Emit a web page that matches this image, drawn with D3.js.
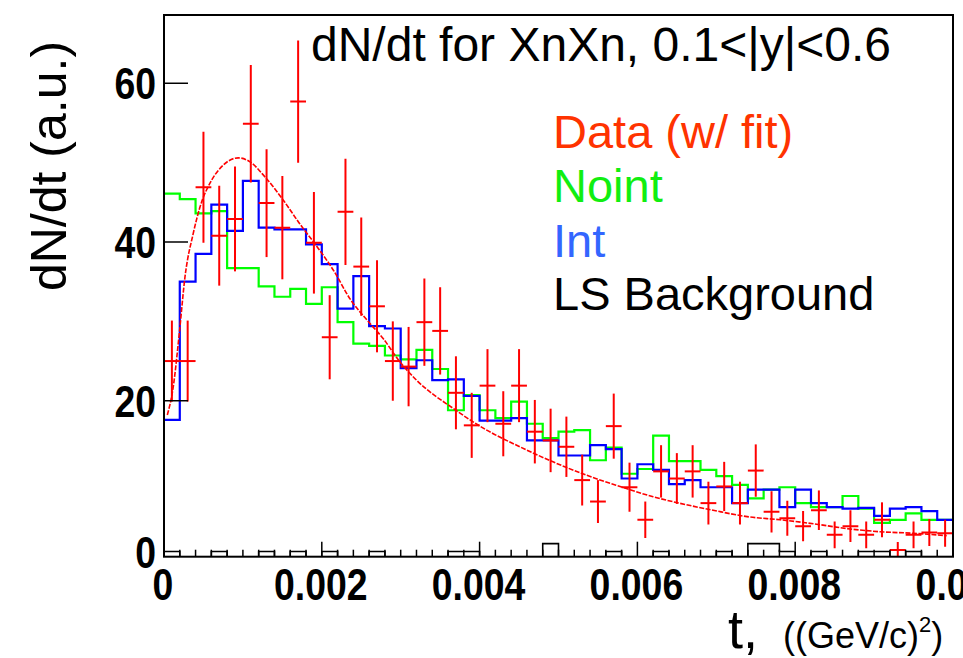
<!DOCTYPE html>
<html>
<head>
<meta charset="utf-8">
<script src="https://cdn.jsdelivr.net/npm/d3@7"></script>
<style>
  html, body { margin: 0; padding: 0; background: #fff; }
  svg { display: block; }
</style>
</head>
<body>
<script>
// ---- Data (50 bins of width 0.0002 in t) ----
const binWidth = 0.0002;
const nBins = 50;
const dataValues = [25.0, 25.0, 46.9, 40.8, 42.9, 54.9, 44.9, 41.8, 57.7, 39.9,
                    28.0, 43.8, 36.9, 31.9, 25.0, 24.3, 29.9, 28.8, 21.0, 16.9,
                    21.9, 17.1, 21.9, 16.1, 15.0, 14.2, 10.0, 7.3, 16.8, 9.1,
                    5.0, 11.1, 10.2, 11.1, 7.1, 9.2, 7.1, 11.2, 6.0, 5.2,
                    4.2, 6.2, 3.1, 4.2, 3.1, 5.0, 1.2, 3.1, 3.4, 3.3];
const dataErrors = [5.1, 5.1, 7.0, 6.3, 6.6, 7.4, 6.8, 6.5, 7.7, 6.4,
                    5.3, 6.7, 6.2, 5.8, 5.0, 5.0, 5.5, 5.5, 4.6, 4.1,
                    4.6, 4.1, 4.6, 4.0, 4.0, 3.8, 3.2, 2.7, 4.1, 3.1,
                    2.3, 3.3, 3.2, 3.3, 2.7, 3.1, 2.7, 3.3, 2.6, 2.2,
                    1.9, 2.5, 1.7, 2.0, 1.7, 2.2, 1.0, 1.7, 1.7, 1.7];
const nointValues = [46.1, 45.4, 43.6, 43.9, 36.7, 36.7, 34.4, 33.1, 34.1, 32.2,
                     34.3, 29.9, 27.2, 26.9, 25.7, 25.2, 26.4, 24.0, 18.8, 20.7,
                     18.8, 17.8, 19.9, 17.1, 15.3, 16.1, 16.3, 12.5, 14.1, 10.8,
                     11.4, 15.6, 12.4, 12.4, 11.3, 10.5, 9.4, 7.7, 8.8, 9.1,
                     7.1, 6.6, 6.6, 8.0, 6.4, 4.6, 5.0, 5.8, 5.0, 5.0];
const intValues = [17.6, 35.0, 38.5, 44.7, 41.4, 47.7, 41.8, 41.6, 41.6, 39.7,
                   37.2, 31.6, 35.7, 29.4, 29.1, 24.1, 25.1, 22.6, 22.7, 20.6,
                   17.5, 17.5, 17.8, 15.0, 15.0, 13.1, 13.1, 14.4, 13.9, 10.2,
                   12.0, 11.3, 9.5, 10.0, 9.1, 9.1, 7.1, 8.8, 8.8, 6.6,
                   8.8, 7.1, 6.6, 6.4, 6.5, 5.5, 6.4, 6.6, 6.1, 5.0];
const lsValues = [1, 0, 0, 1, 0, 0, 1, 0, 1, 0,
                  1, 0, 0, 1, 0, 0, 0, 0, 1, 1,
                  0, 0, 0, 0, 2, 0, 0, 0, 1, 0,
                  0, 1, 0, 0, 0, 1, 0, 2, 2, 1,
                  0, 1, 0, 0, 1, 1, 0, 1, 0, 0];
// Fit curve: [t, dN/dt]
const fitT = [0.000042, 0.000118, 0.000194, 0.000266, 0.000371, 0.000456, 0.000605, 0.000752,
              0.000942, 0.00109, 0.00128, 0.00151, 0.00172, 0.00194, 0.00215, 0.00236,
              0.00257, 0.00278, 0.00299, 0.00320, 0.00367, 0.00409, 0.00451, 0.00493,
              0.00536, 0.00578, 0.00620, 0.00662, 0.00696, 0.00739, 0.00781, 0.00823,
              0.00865, 0.00907, 0.00950, 0.00992];
const fitV = [18.2, 21.8, 28.5, 35.6, 41.1, 44.4, 47.8, 49.7,
              50.6, 50.1, 48.2, 45.3, 42.3, 39.4, 36.4, 32.8,
              30.2, 27.8, 24.9, 22.6, 19.0, 16.3, 14.2, 12.3,
              10.6, 9.2, 7.9, 6.9, 6.2, 5.4, 5.0, 4.5,
              3.9, 3.5, 3.3, 3.0];
const xTickValues = [0, 0.002, 0.004, 0.006, 0.008, 0.01];
const xTickLabels = ["0", "0.002", "0.004", "0.006", "0.008", "0.01"];
const yTickValues = [0, 20, 40, 60];
const yTickLabels = ["0", "20", "40", "60"];
const legendLabels = ["Data (w/ fit)", "Noint", "Int", "LS Background"];
const legendColors = ["#ff3300", "#11ee11", "#3366ff", "#000000"];
const titleText = "dN/dt for XnXn, 0.1<|y|<0.6";

// ---- Layout ----
const W = 963, H = 658;
const frame = { left: 164, right: 953, top: 15, bottom: 556.7 };
const x = d3.scaleLinear().domain([0, 0.01]).range([frame.left, frame.right]);
const y = d3.scaleLinear().domain([0.35, 68.6]).range([frame.bottom, frame.top]);

const svg = d3.select("body").append("svg").attr("width", W).attr("height", H)
  .style("font-family", "'Liberation Sans', Arial, Helvetica, sans-serif");
svg.append("rect").attr("width", W).attr("height", H).attr("fill", "#fff");

svg.append("clipPath").attr("id", "frameClip").append("rect")
  .attr("x", frame.left).attr("y", frame.top)
  .attr("width", frame.right - frame.left).attr("height", frame.bottom - frame.top);

const plot = svg.append("g").attr("clip-path", "url(#frameClip)");

const binEdges = d3.range(nBins + 1).map(i => i * binWidth);
function histPoints(vals) {
  const pts = vals.map((v, i) => [binEdges[i], v]);
  pts.push([binEdges[nBins], vals[nBins - 1]]);
  return pts;
}
const stepLine = d3.line().x(d => x(d[0])).y(d => y(d[1])).curve(d3.curveStepAfter);

function drawHist(vals, color, width) {
  plot.append("path").datum(histPoints(vals))
    .attr("d", stepLine).attr("fill", "none")
    .attr("stroke", color).attr("stroke-width", width)
    .attr("stroke-linejoin", "miter");
}
drawHist(nointValues, "#00ff00", 2.2);
drawHist(intValues, "#0000ff", 2.2);
// LS background starts and ends at zero
(function () {
  const pts = [[0, 0]].concat(histPoints(lsValues)).concat([[binEdges[nBins], 0]]);
  plot.append("path").datum(pts).attr("d", stepLine).attr("fill", "none")
    .attr("stroke", "#000").attr("stroke-width", 1.6);
})();

// Data points with error bars
const dataG = plot.append("g").attr("stroke", "#ff0000").attr("stroke-width", 2);
dataValues.forEach((v, i) => {
  const e = dataErrors[i];
  const xc = binEdges[i] + binWidth / 2;
  dataG.append("line").attr("x1", x(xc)).attr("x2", x(xc))
    .attr("y1", y(v - e)).attr("y2", y(v + e));
  dataG.append("line").attr("x1", x(binEdges[i])).attr("x2", x(binEdges[i + 1]))
    .attr("y1", y(v)).attr("y2", y(v));
});

// Fit curve
const fitLine = d3.line().x(d => x(d[0])).y(d => y(d[1])).curve(d3.curveMonotoneX);
plot.append("path").datum(fitT.map((t, i) => [t, fitV[i]]))
  .attr("d", fitLine).attr("fill", "none").attr("stroke", "#ff0000")
  .attr("stroke-width", 1.6).attr("stroke-dasharray", "5,1.5");

// ---- Frame ----
svg.append("rect").attr("x", frame.left).attr("y", frame.top)
  .attr("width", frame.right - frame.left).attr("height", frame.bottom - frame.top)
  .attr("fill", "none").attr("stroke", "#000").attr("stroke-width", 2);

// ---- X axis ticks ----
const axisG = svg.append("g").attr("stroke", "#000").attr("stroke-width", 1.5);
const minorX = d3.range(0, 51).map(i => i * 0.0002);
minorX.forEach(t => {
  const major = xTickValues.some(v => Math.abs(v - t) < 1e-9);
  const len = major ? 15 : 7;
  axisG.append("line").attr("x1", x(t)).attr("x2", x(t))
    .attr("y1", frame.bottom).attr("y2", frame.bottom - len);
});
// Y axis ticks
yTickValues.forEach(v => {
  if (y(v) <= frame.bottom - 1) {
    axisG.append("line").attr("x1", frame.left).attr("x2", frame.left + 24)
      .attr("y1", y(v)).attr("y2", y(v));
  }
});

// Tick labels (bold, narrow)
const labelScale = 0.85;
xTickValues.forEach((v, i) => {
  svg.append("text")
    .attr("transform", `translate(${x(v) - 1},600) scale(${labelScale},1)`)
    .attr("text-anchor", "middle").attr("font-size", 44).attr("font-weight", "bold")
    .attr("fill", "#000").text(xTickLabels[i]);
});
yTickValues.forEach((v, i) => {
  const yy = y(v) + 16 - (v === 0 ? 7 : 0);
  svg.append("text")
    .attr("transform", `translate(156,${yy}) scale(${labelScale},1)`)
    .attr("text-anchor", "end").attr("font-size", 44).attr("font-weight", "bold")
    .attr("fill", "#000").text(yTickLabels[i]);
});

// ---- Axis titles ----
svg.append("text")
  .attr("transform", "translate(66,166) rotate(-90)")
  .attr("text-anchor", "middle").attr("font-size", 50).attr("fill", "#000")
  .text("dN/dt (a.u.)");

const xt = svg.append("text").attr("x", 728).attr("y", 648).attr("fill", "#000");
xt.append("tspan").attr("font-size", 54).text("t,");
xt.append("tspan").attr("x", 783).attr("font-size", 36).text("((GeV/c)");
xt.append("tspan").attr("font-size", 22).attr("dy", -16).text("2");
xt.append("tspan").attr("font-size", 36).attr("dy", 16).text(")");

// ---- Title ----
svg.append("text").attr("x", 311).attr("y", 61).attr("font-size", 48)
  .attr("fill", "#000").text(titleText);

// ---- Legend ----
const legendBaselines = [148, 202, 257, 310];
legendLabels.forEach((lab, i) => {
  svg.append("text").attr("x", 553).attr("y", legendBaselines[i])
    .attr("font-size", 47).attr("fill", legendColors[i]).text(lab);
});
</script>
</body>
</html>
